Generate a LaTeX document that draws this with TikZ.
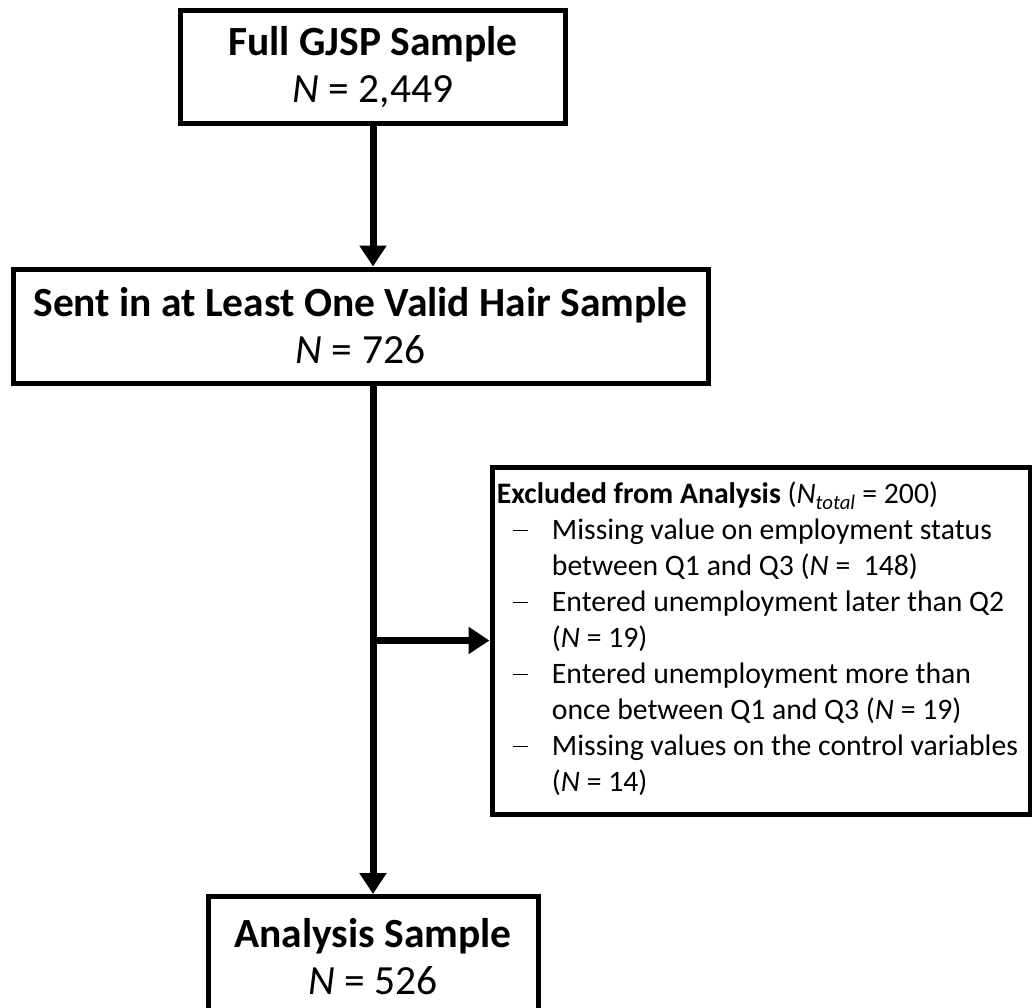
\documentclass[tikz,border=0pt]{standalone}
\usepackage{fontspec}
\setmainfont{Carlito}
\usetikzlibrary{arrows.meta}

% bullet column of the exclusion list: a thin dash followed by the indent
\newcommand{\dashcell}{\makebox[55pt][l]{\hspace{16pt}\rule[8.5pt]{15pt}{1.6pt}}}

\begin{document}
\begin{tikzpicture}[x=1pt,y=-1pt,
  stagebox/.style={draw, line width=5pt, align=center, inner sep=0pt,
    font=\fontsize{41.5}{47}\selectfont},
  listbox/.style={draw, line width=5pt, inner sep=0pt,
    font=\fontsize{29.7}{36}\selectfont},
  flow/.style={line width=7pt, -{Triangle[width=26pt,length=21pt]}}]

  \useasboundingbox (0,0) rectangle (1032,1007);
  \clip (0,0) rectangle (1032,1007);
  \fill[white] (0,0) rectangle (1032,1007);

  % stages of the sample
  \node[stagebox, minimum width=385pt, minimum height=113pt] (full) at (373,67)
    {\textbf{Full GJSP Sample}\\\textit{N} = 2,449};
  \node[stagebox, minimum width=695pt, minimum height=114pt] (hair) at (360.5,326)
    {\textbf{Sent in at Least One Valid Hair Sample}\\\textit{N} = 726};
  \node[stagebox, minimum width=330pt, minimum height=120pt, anchor=north] (analysis) at (373,894)
    {\textbf{Analysis Sample}\\\textit{N} = 526};

  % exclusions
  \node[listbox, minimum width=538pt, minimum height=347pt] (excluded) at (761,640.5) {%
    \hspace*{-7pt}%
    \begin{tabular}{@{}l@{}l@{}}
      \multicolumn{2}{@{}l@{}}{\textbf{Excluded from Analysis} (\textit{N}\textsubscript{\textit{total}} = 200)}\\
      \dashcell & Missing value on employment status\\
                & between Q1 and Q3 (\textit{N} =\ \ 148)\\
      \dashcell & Entered unemployment later than Q2\\
                & (\textit{N} = 19)\\
      \dashcell & Entered unemployment more than\\
                & once between Q1 and Q3 (\textit{N} = 19)\\
      \dashcell & Missing values on the control variables\\
                & (\textit{N} = 14)
    \end{tabular}};

  % connectors
  \coordinate (split) at (full |- excluded.west);
  \draw[flow] (full) -- (full |- hair.north);
  \draw[flow] (full |- hair.south) -- (analysis.north);
  \draw[flow] (split) -- (excluded.west);
\end{tikzpicture}
\end{document}
